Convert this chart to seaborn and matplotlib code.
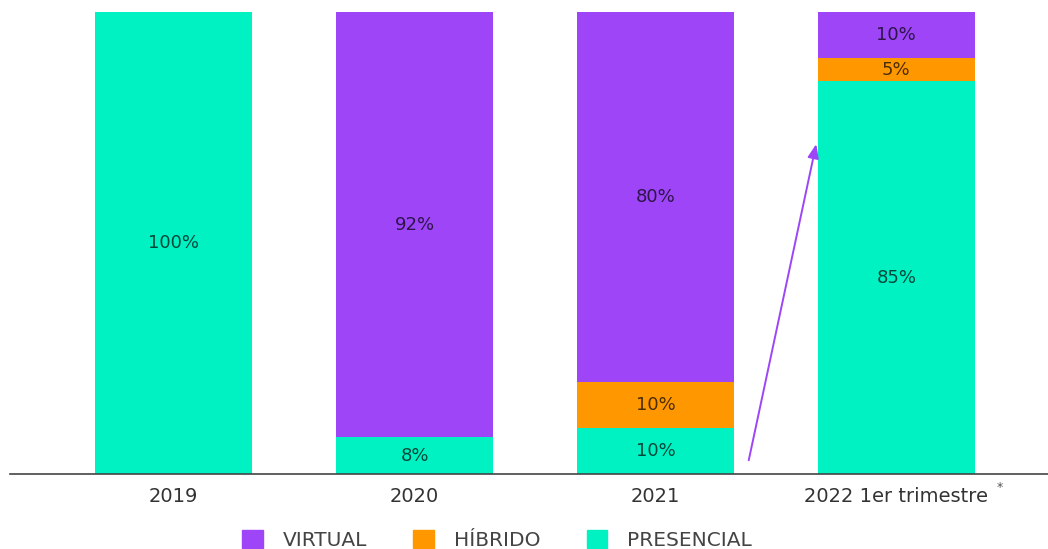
import matplotlib
matplotlib.use("Agg")
import matplotlib.pyplot as plt
import seaborn as sns
import pandas as pd
import numpy as np
from matplotlib.patches import Patch

categories = ["2019", "2020", "2021", "2022 1er trimestre"]
presencial = [100, 8, 10, 85]
hibrido = [0, 0, 10, 5]
virtual = [0, 92, 80, 10]

c_virtual = "#9D45F7"
c_hibrido = "#FF9800"
c_presencial = "#00F2C3"

sns.set_theme(style="white")
plt.rcParams["font.family"] = ["DejaVu Sans"]

fig = plt.figure(figsize=(10.48, 5.49), dpi=100)
ax = fig.add_axes([10/1048, 75/549, 1038/1048, 462/549])

pres = np.array(presencial, dtype=float)
hib = np.array(hibrido, dtype=float)
vir = np.array(virtual, dtype=float)

df = pd.DataFrame({"cat": categories, "total": pres + hib + vir,
                   "ph": pres + hib, "p": pres})

w = 0.65
for col, c in [("total", c_virtual), ("ph", c_hibrido), ("p", c_presencial)]:
    sns.barplot(data=df, x="cat", y=col, color=c, saturation=1, width=w, ax=ax,
                linewidth=0, edgecolor="none")

for i in range(len(categories)):
    bottoms = [0, pres[i], pres[i] + hib[i]]
    vals = [pres[i], hib[i], vir[i]]
    for b, v in zip(bottoms, vals):
        if v > 0:
            ax.text(i, b + v / 2, f"{int(v)}%", ha="center", va="center",
                    fontsize=13, color="black", alpha=0.7, fontweight="medium")

ax.set_xlim(-0.68, 3.63)
ax.set_ylim(0, 100)
ax.set_xlabel("")
ax.set_ylabel("")
ax.set_yticks([])
for s in ["top", "left", "right"]:
    ax.spines[s].set_visible(False)
ax.spines["bottom"].set_color("#444444")
ax.spines["bottom"].set_linewidth(1.2)
ax.tick_params(axis="x", length=0, pad=9, labelsize=14, colors="#333333")

ax.text(3.43, -3.0, "*", fontsize=9, color="#555555", ha="center", va="center")

ax.annotate("", xy=(2.67, 72), xytext=(2.385, 2.4),
            arrowprops=dict(arrowstyle="-|>,head_length=0.7,head_width=0.28",
                            color=c_virtual, lw=1.4))

handles = [Patch(color=c_virtual, label="VIRTUAL"),
           Patch(color=c_hibrido, label="HÍBRIDO"),
           Patch(color=c_presencial, label="PRESENCIAL")]
fig.legend(handles=handles, loc="center", bbox_to_anchor=(497/1048, 1 - 540/549),
           ncol=3, frameon=False, fontsize=14.5, handlelength=1.0, handleheight=1.0,
           columnspacing=2.3, handletextpad=1.0, labelcolor="#444444")

fig.savefig("out.png", dpi=100)
